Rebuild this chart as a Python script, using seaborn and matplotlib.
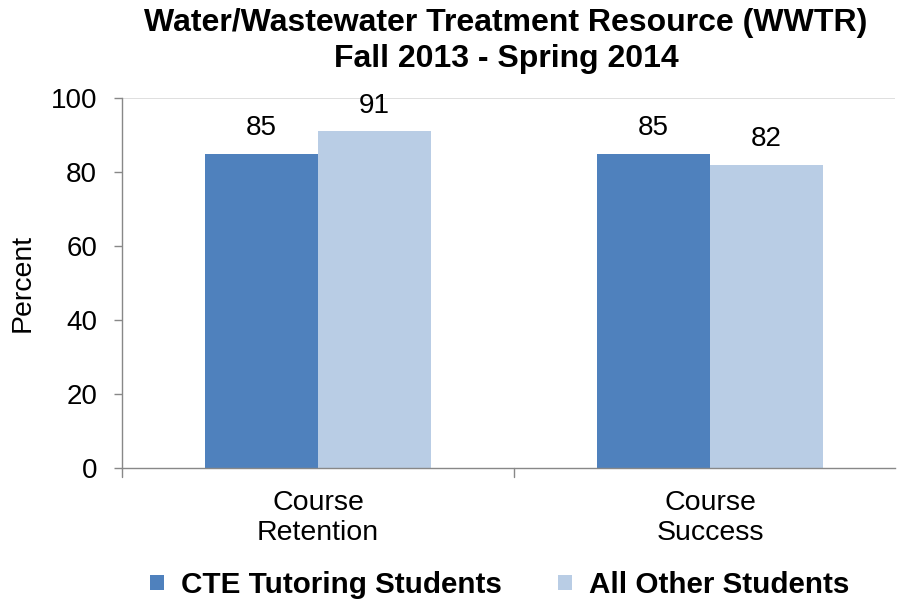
import matplotlib
matplotlib.use("Agg")
import matplotlib.pyplot as plt
import seaborn as sns
import pandas as pd
from matplotlib.patches import Patch

categories = ["Course\nRetention", "Course\nSuccess"]
series_names = ["CTE Tutoring Students", "All Other Students"]
cte_values = [85, 85]
other_values = [91, 82]
colors = ["#4F81BD", "#B9CDE5"]
yticks = [0, 20, 40, 60, 80, 100]

df = pd.DataFrame({
    "Category": categories * 2,
    "Group": [series_names[0]] * 2 + [series_names[1]] * 2,
    "Percent": cte_values + other_values,
})

sns.set_theme(style="white")
plt.rcParams["font.family"] = ["Liberation Sans", "DejaVu Sans"]
plt.rcParams["text.color"] = "black"
plt.rcParams["axes.labelcolor"] = "black"
plt.rcParams["xtick.color"] = "black"
plt.rcParams["ytick.color"] = "black"

fig = plt.figure(figsize=(8.97, 6.02), dpi=100)
W, H = 897, 602
ax = fig.add_axes([122 / W, 1 - 468 / H, (895 - 122) / W, (468 - 98) / H])

sns.barplot(data=df, x="Category", y="Percent", hue="Group",
            palette=colors, width=0.575, saturation=1, ax=ax,
            legend=False, errorbar=None, linewidth=0)

ax.set_xlim(-0.5, -0.5 + (895 - 122) / 392)
ax.set_ylim(0, 100)
ax.set_yticks(yticks)
ax.set_yticklabels([str(v) for v in yticks], fontsize=20)
ax.set_xticks([0, 1])
ax.set_xticklabels(categories, fontsize=20.5, linespacing=1.2)
ax.tick_params(axis="x", length=0, pad=16)
ax.tick_params(axis="y", left=True, length=6, width=1, color="#888888",
               labelcolor="black", direction="out", pad=12)
# category boundary ticks
for xb in [-0.5, 0.5, 1.5]:
    ax.plot([xb, xb], [0, -2.4], color="#888888", lw=1,
            clip_on=False, transform=ax.transData)
ax.axhline(100, color="#D9D9D9", lw=1.2, zorder=0)

for s in ["top", "right"]:
    ax.spines[s].set_visible(False)
for s in ["left", "bottom"]:
    ax.spines[s].set_color("#888888")
    ax.spines[s].set_linewidth(1)

ax.set_xlabel("")
ax.set_ylabel("Percent", fontsize=20.5, labelpad=11)

for cont in ax.containers:
    ax.bar_label(cont, labels=[f"{v:.0f}" for v in cont.datavalues],
                 padding=9, fontsize=20)

fig.text(506 / W, 1 - 23 / H, "Water/Wastewater Treatment Resource (WWTR)",
         ha="center", va="center", fontsize=23, fontweight="bold")
fig.text(506 / W, 1 - 59 / H, "Fall 2013 - Spring 2014",
         ha="center", va="center", fontsize=23, fontweight="bold")

handles = [Patch(facecolor=c, edgecolor="none") for c in colors]
fig.legend(handles, series_names, loc="center", bbox_to_anchor=(500 / W, 1 - 585 / H),
           ncol=2, frameon=False, prop={"size": 21.3, "weight": "bold"},
           handlelength=0.45, handleheight=0.45, handletextpad=0.6, columnspacing=1.9)

fig.savefig("out.png", dpi=100)
